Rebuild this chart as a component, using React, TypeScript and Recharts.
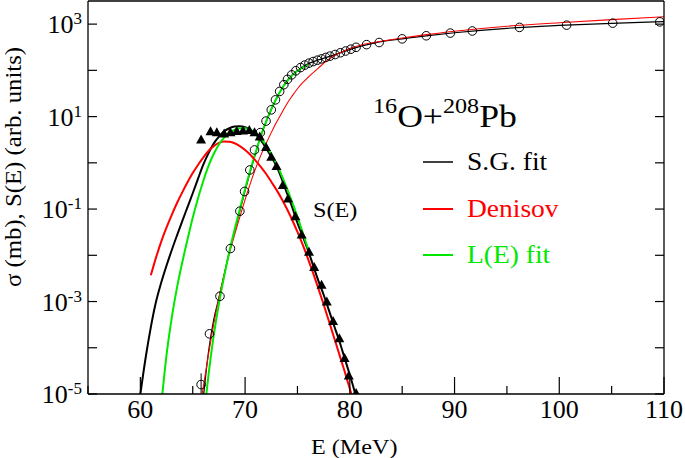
import { ComposedChart, Line, Scatter, XAxis, YAxis, ErrorBar } from "recharts"

const FONT = "Liberation Serif, Times New Roman, serif"
const RED = "#ff0000"
const GREEN = "#00e800"

// measured cross section (open circles)
const circleE = [65.8, 66.6, 67.6, 68.6, 69.5, 69.95, 70.45, 70.9, 71.45, 72.0, 72.5, 72.9, 73.3, 73.7, 74.05, 74.45, 74.85, 75.3, 75.7, 76.1, 76.5, 76.9, 77.3, 77.7, 78.1, 78.6, 79.1, 79.6, 80.1, 80.6, 81.6, 82.8, 85.0, 87.3, 89.6, 91.7, 96.2, 100.7, 105.1, 109.6]
const circleSigma = [1.6e-5, 2.0e-4, 1.3e-3, 0.014, 0.09, 0.24, 0.7, 1.9, 4.5, 8.0, 14, 23, 35, 49, 64, 80, 98, 115, 130, 143, 155, 166, 177, 190, 203, 220, 240, 262, 287, 315, 360, 400, 480, 560, 640, 710, 850, 950, 1050, 1120]
// only the lowest point carries a visible error bar
const circleErr = [[0.6e-5, 1.2e-5]]

// astrophysical S factor (filled triangles)
const triE = [65.8, 66.7, 67.3, 68.0, 68.6, 69.2, 69.8, 70.4, 70.9, 71.4, 72.0, 72.5, 73.0, 73.6, 74.1, 74.8, 75.4, 76.1, 76.6, 77.3, 77.8, 78.4, 79.0, 79.5, 79.9, 80.6]
const triS = [3.2, 4.8, 4.6, 4.3, 4.6, 4.9, 5.0, 5.1, 4.6, 3.7, 2.2, 1.35, 0.85, 0.33, 0.17, 0.07, 0.028, 0.012, 5.6e-3, 2.3e-3, 1.0e-3, 3.8e-4, 1.6e-4, 6.0e-5, 2.5e-5, 1.05e-5]

// S.G. fit
const sgSigmaE = [66.05, 66.5, 67.0, 67.5, 68.0, 68.5, 69.0, 69.5, 70.0, 70.5, 71.0, 71.5, 72.0, 72.5, 73.0, 73.5, 74.0, 74.5, 75.0, 75.5, 76.0, 77.0, 78.0, 79.0, 80.0, 81.0, 82.0, 83.0, 85.0, 87.5, 90.0, 92.5, 95.0, 100.0, 105.0, 110.0]
const sgSigma = [1e-5, 8e-5, 4e-4, 1.2e-3, 3.8e-3, 0.012, 0.033, 0.09, 0.25, 0.65, 1.6, 3.8, 7.5, 14, 25, 40, 60, 80, 100, 120, 138, 168, 198, 235, 280, 330, 375, 420, 480, 565, 650, 730, 810, 935, 1040, 1130]
const sgSE = [60.0, 60.5, 61.0, 61.5, 62.0, 62.5, 63.0, 63.5, 64.0, 64.5, 65.0, 65.5, 66.0, 66.5, 67.0, 67.5, 68.0, 68.5, 69.0, 69.5, 70.0, 70.5, 71.0, 71.5, 72.0, 72.5, 73.0, 73.5, 74.0, 74.5, 75.0, 75.5, 76.0, 76.5, 77.0, 77.5, 78.0, 78.5, 79.0, 79.5, 80.0, 80.5]
const sgS = [1e-5, 6e-5, 2.8e-4, 1.0e-3, 2.6e-3, 6e-3, 0.013, 0.027, 0.055, 0.11, 0.22, 0.45, 0.9, 1.6, 2.6, 3.7, 4.8, 5.6, 6.1, 6.2, 5.9, 5.2, 4.2, 3.1, 2.1, 1.35, 0.85, 0.45, 0.22, 0.11, 0.05, 0.026, 0.013, 6e-3, 2.8e-3, 1.4e-3, 6.5e-4, 3e-4, 1.4e-4, 6e-5, 2.6e-5, 1.05e-5]

// Denisov
const denSigmaE = [65.9, 66.5, 67.0, 67.5, 68.0, 68.5, 69.0, 69.5, 70.0, 70.5, 71.0, 71.5, 72.0, 72.5, 73.0, 73.5, 74.0, 74.5, 75.0, 75.5, 76.0, 77.0, 78.0, 79.0, 80.0, 81.0, 82.0, 83.0, 85.0, 87.5, 90.0, 95.0, 100.0, 105.0, 110.0]
const denSigma = [1e-5, 7e-5, 3.2e-4, 1.2e-3, 3.8e-3, 0.011, 0.028, 0.068, 0.16, 0.36, 0.75, 1.45, 2.6, 4.5, 7.5, 12, 19, 28, 40, 54, 70, 112, 175, 235, 295, 350, 390, 425, 500, 600, 700, 900, 1070, 1250, 1440]
const denSE = [61.0, 61.5, 62.0, 62.5, 63.0, 63.5, 64.0, 64.5, 65.0, 65.5, 66.0, 66.5, 67.0, 67.5, 68.0, 68.5, 69.0, 69.5, 70.0, 70.5, 71.0, 71.5, 72.0, 72.5, 73.0, 73.5, 74.0, 74.5, 75.0, 75.5, 76.0, 76.5, 77.0, 77.5, 78.0, 78.5, 79.0, 79.5, 80.0, 80.15]
const denS = [3.7e-3, 9e-3, 0.02, 0.04, 0.075, 0.135, 0.23, 0.38, 0.6, 0.9, 1.3, 1.8, 2.3, 2.7, 2.9, 2.85, 2.65, 2.3, 1.9, 1.5, 1.12, 0.82, 0.58, 0.39, 0.26, 0.165, 0.1, 0.058, 0.032, 0.017, 8.5e-3, 4.1e-3, 1.9e-3, 8.6e-4, 3.8e-4, 1.65e-4, 7.2e-5, 3.1e-5, 1.3e-5, 1e-5]

// L(E) fit
const leSigmaE = [66.3, 66.5, 67.0, 67.5, 68.0, 68.5, 69.0, 69.5, 70.0, 70.5, 71.0, 71.5, 72.0, 72.5, 73.0, 73.5, 74.0, 74.5, 75.0, 75.5, 76.0]
const leSigma = [1e-5, 2.5e-5, 1.8e-4, 9e-4, 3.5e-3, 0.012, 0.036, 0.1, 0.27, 0.7, 1.65, 3.8, 7.8, 14.5, 25, 40, 58, 78, 98, 116, 130]
const leSE = [62.1, 62.5, 63.0, 63.5, 64.0, 64.5, 65.0, 65.5, 66.0, 66.5, 67.0, 67.5, 68.0, 68.5, 69.0, 69.5, 70.0, 70.5, 71.0, 71.5, 72.0, 72.5, 73.0, 73.5, 74.0, 74.5, 75.0, 75.5, 76.0]
const leS = [1e-5, 7e-5, 4.5e-4, 2e-3, 7e-3, 0.022, 0.065, 0.17, 0.4, 0.85, 1.55, 2.5, 3.5, 4.5, 5.2, 5.6, 5.6, 5.2, 4.4, 3.4, 2.4, 1.55, 0.95, 0.53, 0.28, 0.14, 0.068, 0.031, 0.014]

const xTicks = [55, 60, 65, 70, 75, 80, 85, 90, 95, 100, 105, 110]
const yTicks = [1e-5, 1e-4, 1e-3, 1e-2, 1e-1, 1, 10, 100, 1000]

const zip = (es: number[], vs: number[]) => es.map((e, i) => ({ e, v: vs[i] }))

const circles = zip(circleE, circleSigma).map((d, i) => ({ ...d, err: circleErr[i] ?? [0, 0] }))

const XTick = ({ x, y, payload, top }: any) => {
  const v = payload.value
  const len = v % 10 === 0 ? 17 : 8
  const dir = top ? 1 : -1
  return (
    <g>
      <line x1={x} x2={x} y1={y} y2={y + dir * len} stroke="#000" strokeWidth={1.2} />
      {!top && v % 10 === 0 && v > 55 && (
        <text x={x} y={y + 24} textAnchor="middle" fontSize={26} fontFamily={FONT} fill="#000">
          {v}
        </text>
      )}
    </g>
  )
}

const YTick = ({ x, y, payload, right }: any) => {
  const exp = Math.round(Math.log10(payload.value))
  const dir = right ? -1 : 1
  return (
    <g>
      <line x1={x} x2={x + dir * 9} y1={y} y2={y} stroke="#000" strokeWidth={1.2} />
      {!right && exp % 2 !== 0 && (
        <text x={x - 6} y={y + 9} textAnchor="end" fontSize={26} fontFamily={FONT} fill="#000">
          10<tspan fontSize={17} dy={-9}>{exp}</tspan>
        </text>
      )}
    </g>
  )
}

const Circle = ({ cx, cy }: any) => <circle cx={cx} cy={cy} r={4.3} fill="none" stroke="#000" strokeWidth={1} />
const Tri = ({ cx, cy }: any) => (
  <path d={`M${cx},${cy - 5} L${cx + 5},${cy + 4} L${cx - 5},${cy + 4} Z`} fill="#000" />
)

// stretched text, the figure is a bit wider than tall
const Txt = ({ x, y, size, sx = 1.1, color = "#000", children }: any) => (
  <g transform={`translate(${x},${y}) scale(${sx},1)`}>
    <text x={0} y={0} fontSize={size} fontFamily={FONT} fill={color}>
      {children}
    </text>
  </g>
)

export default function App() {
  const ax = { xAxisId: "b", yAxisId: "l", isAnimationActive: false }
  return (
    <div style={{ position: "absolute", left: 0, top: 0, width: 685, height: 458, background: "#fff" }}>
      <ComposedChart width={685} height={458} margin={{ top: 0, right: 20, bottom: 0, left: 0 }}>
        <XAxis
          xAxisId="b"
          dataKey="e"
          type="number"
          domain={[55, 110]}
          ticks={xTicks}
          interval={0}
          allowDataOverflow
          height={64}
          tickSize={0}
          tickMargin={0}
          tickLine={false}
          axisLine={{ stroke: "#000", strokeWidth: 1.3 }}
          tick={(p: any) => <XTick {...p} />}
        />
        <XAxis
          xAxisId="t"
          orientation="top"
          type="number"
          domain={[55, 110]}
          ticks={xTicks}
          interval={0}
          allowDataOverflow
          height={1}
          tickSize={0}
          tickMargin={0}
          tickLine={false}
          axisLine={{ stroke: "#000", strokeWidth: 1.3 }}
          tick={(p: any) => <XTick {...p} top />}
        />
        <YAxis
          yAxisId="l"
          dataKey="v"
          type="number"
          scale="log"
          domain={[1e-5, 3162.28]}
          ticks={yTicks}
          interval={0}
          allowDataOverflow
          width={88}
          tickSize={0}
          tickMargin={0}
          tickLine={false}
          axisLine={{ stroke: "#000", strokeWidth: 1.3 }}
          tick={(p: any) => <YTick {...p} />}
        />
        <YAxis
          yAxisId="r"
          orientation="right"
          type="number"
          scale="log"
          domain={[1e-5, 3162.28]}
          ticks={yTicks}
          interval={0}
          allowDataOverflow
          width={1}
          tickSize={0}
          tickMargin={0}
          tickLine={false}
          axisLine={{ stroke: "#000", strokeWidth: 1.3 }}
          tick={(p: any) => <YTick {...p} right />}
        />
        <Scatter {...ax} data={circles} shape={<Circle />}>
          <ErrorBar dataKey="err" direction="y" width={0} stroke="#000" strokeWidth={1} isAnimationActive={false} />
        </Scatter>
        <Scatter {...ax} data={zip(triE, triS)} shape={<Tri />} />
        <Line {...ax} data={zip(sgSigmaE, sgSigma)} dataKey="v" type="monotone" stroke="#000" strokeWidth={1.2} dot={false} />
        <Line {...ax} data={zip(denSigmaE, denSigma)} dataKey="v" type="monotone" stroke={RED} strokeWidth={1.1} dot={false} />
        <Line {...ax} data={zip(leSigmaE, leSigma)} dataKey="v" type="monotone" stroke={GREEN} strokeWidth={2} dot={false} />
        <Line {...ax} data={zip(sgSE, sgS)} dataKey="v" type="monotone" stroke="#000" strokeWidth={2} dot={false} />
        <Line {...ax} data={zip(denSE, denS)} dataKey="v" type="monotone" stroke={RED} strokeWidth={2} dot={false} />
        <Line {...ax} data={zip(leSE, leS)} dataKey="v" type="monotone" stroke={GREEN} strokeWidth={2} dot={false} />
      </ComposedChart>
      <svg width={685} height={458} style={{ position: "absolute", left: 0, top: 0, pointerEvents: "none" }}>
        <Txt x={373} y={127} size={31} sx={1.15}>
          <tspan fontSize={21} dy={-14}>16</tspan>
          <tspan dy={14}>O+</tspan>
          <tspan fontSize={21} dy={-14}>208</tspan>
          <tspan dy={14}>Pb</tspan>
        </Txt>
        <line x1={423} x2={453} y1={162} y2={162} stroke="#000" strokeWidth={1.5} />
        <Txt x={467} y={170} size={25}>S.G. fit</Txt>
        <line x1={423} x2={453} y1={209} y2={209} stroke={RED} strokeWidth={2} />
        <Txt x={467} y={217} size={25} color={RED}>Denisov</Txt>
        <line x1={423} x2={453} y1={255} y2={255} stroke={GREEN} strokeWidth={2} />
        <Txt x={467} y={263} size={25} color={GREEN}>L(E) fit</Txt>
        <Txt x={313} y={217} size={22}>S(E)</Txt>
        <Txt x={311} y={454} size={22}>E (MeV)</Txt>
        <text
          transform="translate(21,167) rotate(-90)"
          x={0}
          y={0}
          textAnchor="middle"
          fontSize={23}
          fontFamily={FONT}
          fill="#000"
          textLength={240}
          lengthAdjust="spacingAndGlyphs"
        >
          σ (mb),  S(E) (arb. units)
        </text>
      </svg>
    </div>
  )
}
